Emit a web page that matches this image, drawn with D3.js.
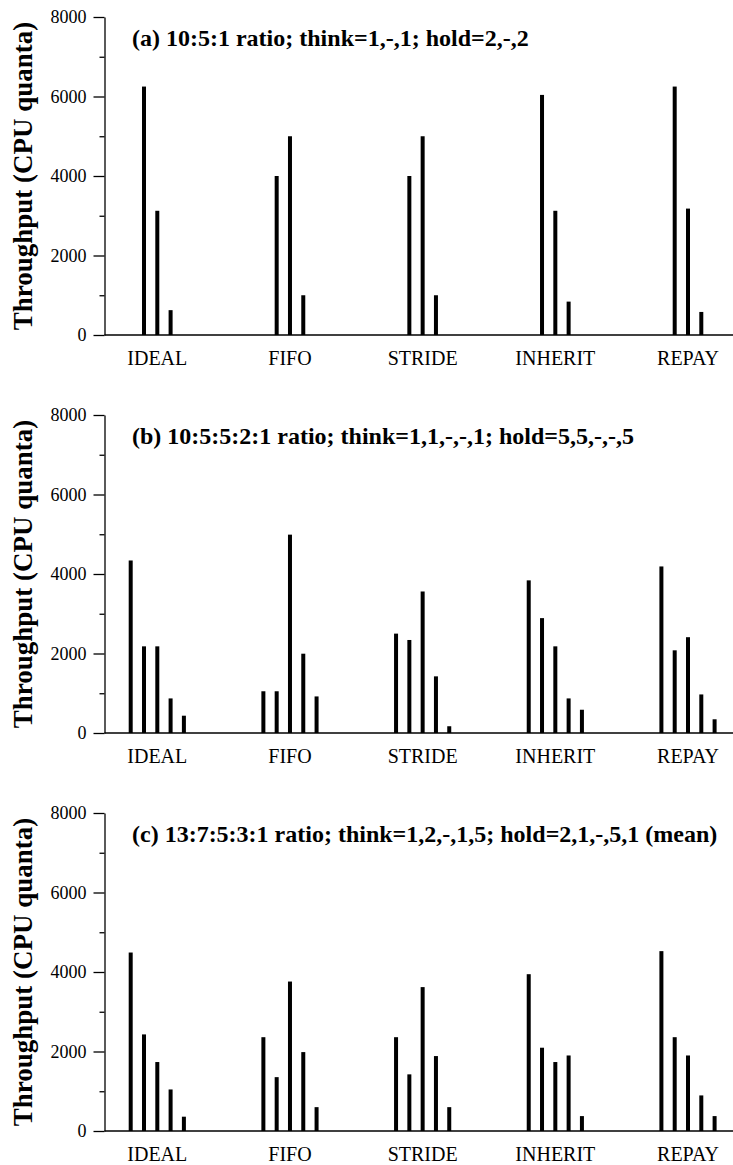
<!DOCTYPE html>
<html>
<head>
<meta charset="utf-8">
<script src="https://cdn.jsdelivr.net/npm/d3@7"></script>
<style>
  body { margin: 0; background: #fff; }
  text { font-family: "Liberation Serif", "Times New Roman", serif; }
</style>
</head>
<body>
<div class="canvas"></div>
<script>
const policies = ['IDEAL', 'FIFO', 'STRIDE', 'INHERIT', 'REPAY'];
const majorTicks = [0, 2000, 4000, 6000, 8000];
const minorTicks = [1000, 3000, 5000, 7000];

const titles = [
  '(a) 10:5:1 ratio; think=1,-,1; hold=2,-,2',
  '(b) 10:5:5:2:1 ratio; think=1,1,-,-,1; hold=5,5,-,-,5',
  '(c) 13:7:5:3:1 ratio; think=1,2,-,1,5; hold=2,1,-,5,1 (mean)'
];

// one row per policy, one value per task
const panelA = [
  [6250, 3125, 625],
  [4000, 5000, 1000],
  [4000, 5000, 1000],
  [6040, 3125, 840],
  [6250, 3180, 580]
];
const panelB = [
  [4340, 2180, 2180, 870, 435],
  [1050, 1050, 4990, 1995, 920],
  [2500, 2340, 3560, 1425, 170],
  [3840, 2890, 2180, 870, 585],
  [4190, 2080, 2410, 970, 345]
];
const panelC = [
  [4490, 2430, 1735, 1045, 360],
  [2360, 1355, 3760, 1985, 600],
  [2360, 1425, 3620, 1885, 600],
  [3945, 2095, 1735, 1900, 375],
  [4525, 2360, 1900, 895, 375]
];
const panels = [panelA, panelB, panelC];

const width = 733, height = 1165;
const axisX = 104.5;
const tops = [17, 415, 813];
const plotH = 318;
const barStep = 13.3, barW = 4;

const svg = d3.select('.canvas')
  .append('svg')
  .attr('width', width)
  .attr('height', height);

const x = d3.scalePoint()
  .domain(policies)
  .range([157.3, 688]);

const y = d3.scaleLinear()
  .domain([0, 8000])
  .range([plotH, 0]);

panels.forEach((data, p) => {
  const g = svg.append('g')
    .attr('transform', `translate(0, ${tops[p]})`);

  // bars
  data.forEach((vals, i) => {
    const n = vals.length;
    g.selectAll(null)
      .data(vals)
      .enter()
      .append('rect')
      .attr('x', (d, j) => x(policies[i]) + (j - (n - 1) / 2) * barStep - barW / 2)
      .attr('y', d => y(d))
      .attr('width', barW)
      .attr('height', d => plotH - y(d))
      .attr('fill', '#000');
  });

  // x axis line
  g.append('line')
    .attr('x1', axisX).attr('x2', width)
    .attr('y1', y(0)).attr('y2', y(0))
    .attr('stroke', '#000').attr('stroke-width', 1.3);

  // x labels
  g.selectAll('.xlab')
    .data(policies)
    .enter()
    .append('text')
    .attr('class', 'xlab')
    .attr('x', d => x(d))
    .attr('y', y(0) + 30)
    .attr('text-anchor', 'middle')
    .attr('font-size', 20)
    .text(d => d);

  // y axis
  const yAxis = g.append('g')
    .attr('transform', `translate(${axisX}, 0)`)
    .call(d3.axisLeft(y).tickValues(majorTicks).tickFormat(d3.format('d'))
      .tickSize(11).tickSizeOuter(0).tickPadding(7));
  yAxis.select('.domain').attr('stroke-width', 1.3);
  yAxis.selectAll('.tick line').attr('stroke-width', 1.3);
  yAxis.selectAll('.tick text')
    .attr('font-family', '"Liberation Serif", serif')
    .attr('font-size', 18)
    .attr('fill', '#000');

  const yMinor = g.append('g')
    .attr('transform', `translate(${axisX}, 0)`)
    .call(d3.axisLeft(y).tickValues(minorTicks).tickSize(5).tickSizeOuter(0).tickFormat(''));
  yMinor.select('.domain').remove();
  yMinor.selectAll('.tick line').attr('stroke-width', 1.3);

  // y label
  g.append('text')
    .attr('transform', `translate(32, ${plotH / 2}) rotate(-90)`)
    .attr('text-anchor', 'middle')
    .attr('font-size', 27)
    .attr('font-weight', 'bold')
    .text('Throughput (CPU quanta)');

  // panel title
  g.append('text')
    .attr('x', 132)
    .attr('y', 29)
    .attr('font-size', 24)
    .attr('font-weight', 'bold')
    .text(titles[p]);
});
</script>
</body>
</html>
